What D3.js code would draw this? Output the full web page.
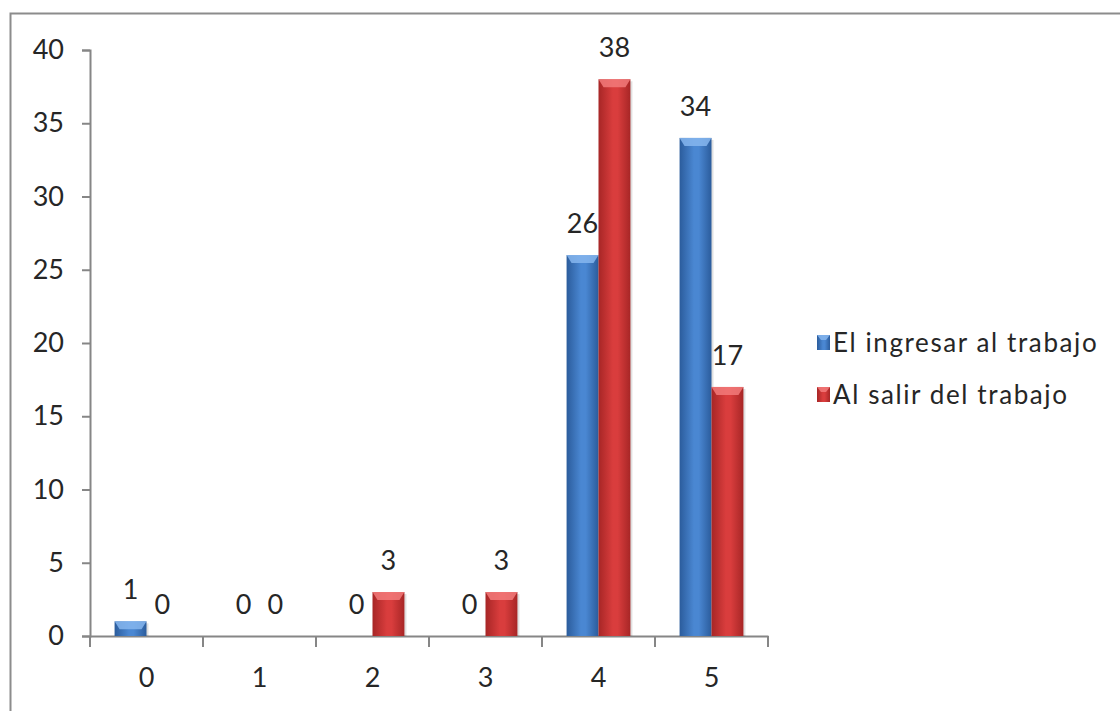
<!DOCTYPE html>
<html>
<head>
<meta charset="utf-8">
<script src="https://cdn.jsdelivr.net/npm/d3@7"></script>
<style>
  body { margin: 0; background: #fff; }
  text { font-family: Lato, "Noto Sans", sans-serif; fill: #262626; }
</style>
</head>
<body>
<div id="chart"></div>
<script>
// data
var categories = ["0", "1", "2", "3", "4", "5"];
var seriesNames = ["El ingresar al trabajo", "Al salir del trabajo"];
var ingresar = [1, 0, 0, 0, 26, 34];
var salir = [0, 0, 3, 3, 38, 17];
var yTicks = [0, 5, 10, 15, 20, 25, 30, 35, 40];

var svgWidth = 1120;
var svgHeight = 711;

var margin = { top: 50, right: 352, bottom: 75, left: 90 };
var width = svgWidth - margin.left - margin.right;
var height = svgHeight - margin.top - margin.bottom;

var svg = d3.select("#chart").append("svg")
    .attr("width", svgWidth).attr("height", svgHeight);

// gradients for the bevelled bars
var defs = svg.append("defs");
var palette = [
    { id: "gBlue", edge: "#2b5c9c", mid: "#4a87d2", top: "#86b6ee" },
    { id: "gRed", edge: "#a72626", mid: "#d93d3d", top: "#f27a7a" }
];
palette.forEach(function(p) {
    var g = defs.append("linearGradient").attr("id", p.id)
        .attr("x1", "0%").attr("x2", "100%").attr("y1", "0%").attr("y2", "0%");
    g.append("stop").attr("offset", "0%").attr("stop-color", p.edge);
    g.append("stop").attr("offset", "45%").attr("stop-color", p.mid);
    g.append("stop").attr("offset", "60%").attr("stop-color", p.mid);
    g.append("stop").attr("offset", "100%").attr("stop-color", p.edge);
});

// outer chart border (runs off the right and bottom edge)
svg.append("rect")
    .attr("x", 10.5).attr("y", 13.5)
    .attr("width", 1130).attr("height", 720)
    .attr("fill", "none").attr("stroke", "#8c8c8c").attr("stroke-width", 2);

var chartGroup = svg.append("g").attr("transform", `translate(${margin.left},${margin.top})`);

var x0 = d3.scaleBand().domain(categories).range([0, width]).padding(0);
var x1 = d3.scaleBand().domain([0, 1]).range([0, x0.bandwidth()]).paddingInner(0).paddingOuter(0.77);
var yLinearScale = d3.scaleLinear().domain([0, 40]).range([height, 0]);

// y axis
var leftAxis = d3.axisLeft(yLinearScale).tickValues(yTicks).tickSize(8).tickPadding(18);
var yAxis = chartGroup.append("g").call(leftAxis);
yAxis.select(".domain").attr("stroke", "#868686").attr("stroke-width", 2);
yAxis.selectAll(".tick line").attr("stroke", "#868686").attr("stroke-width", 2);
yAxis.selectAll(".tick text").attr("font-size", "27px").attr("fill", "#262626")
    .attr("font-family", "Lato, 'Noto Sans', sans-serif");

// x axis with tick marks between categories
var bottomAxis = d3.axisBottom(x0).tickSize(0).tickPadding(32);
var xAxis = chartGroup.append("g").attr("transform", `translate(0, ${height})`).call(bottomAxis);
xAxis.select(".domain").attr("stroke", "#868686").attr("stroke-width", 2);
xAxis.selectAll(".tick text").attr("font-size", "27px").attr("fill", "#262626")
    .attr("font-family", "Lato, 'Noto Sans', sans-serif");
xAxis.selectAll(".sep")
    .data(categories.concat(["end"])).enter().append("line")
    .attr("class", "sep")
    .attr("x1", (d, i) => i * x0.step()).attr("x2", (d, i) => i * x0.step())
    .attr("y1", 0).attr("y2", 11)
    .attr("stroke", "#868686").attr("stroke-width", 2);

// bars
var rows = [];
categories.forEach(function(c, i) {
    rows.push({ cat: c, s: 0, v: ingresar[i] });
    rows.push({ cat: c, s: 1, v: salir[i] });
});

var bars = chartGroup.selectAll(".bar")
    .data(rows).enter().append("g").attr("class", "bar")
    .attr("transform", d => `translate(${x0(d.cat) + x1(d.s)},0)`);

bars.filter(d => d.v > 0).append("rect")
    .attr("x", 2).attr("y", d => yLinearScale(d.v) + 2)
    .attr("width", x1.bandwidth()).attr("height", d => height - yLinearScale(d.v) - 2)
    .attr("fill", "#000").attr("opacity", 0.12);

bars.filter(d => d.v > 0).append("rect")
    .attr("x", 0).attr("y", d => yLinearScale(d.v))
    .attr("width", x1.bandwidth()).attr("height", d => height - yLinearScale(d.v))
    .attr("fill", d => `url(#${palette[d.s].id})`);

bars.filter(d => d.v > 0).append("polygon")
    .attr("points", function(d) {
        var w = x1.bandwidth(), t = yLinearScale(d.v);
        var b = Math.min(8, (height - t) * 0.6);
        return [[0, t], [w, t], [w - 5, t + b], [5, t + b]].map(p => p.join(",")).join(" ");
    })
    .attr("fill", d => palette[d.s].top).attr("opacity", 0.85);

// value labels
bars.append("text")
    .attr("x", x1.bandwidth() / 2)
    .attr("y", d => yLinearScale(d.v) - 22)
    .attr("text-anchor", "middle")
    .attr("font-size", "27px")
    .text(d => d.v);

// legend
var legend = svg.append("g").attr("transform", "translate(817,343)");
seriesNames.forEach(function(name, i) {
    var item = legend.append("g").attr("transform", `translate(0, ${i * 52})`);
    item.append("rect").attr("x", 0).attr("y", -8).attr("width", 13).attr("height", 15)
        .attr("fill", `url(#${palette[i].id})`);
    item.append("polygon").attr("points", "0,-8 13,-8 9,-3 4,-3")
        .attr("fill", palette[i].top).attr("opacity", 0.85);
    item.append("text").attr("x", 16).attr("y", 0).attr("dy", "0.35em")
        .attr("font-size", "26px").attr("letter-spacing", "1.6px").text(name);
});
</script>
</body>
</html>
